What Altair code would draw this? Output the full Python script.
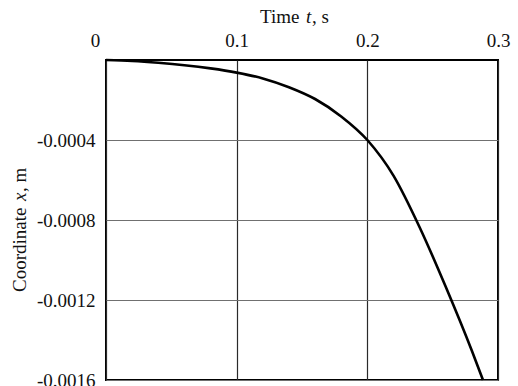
import altair as alt
import pandas as pd

# Displacement curve: time (s) and coordinate (m)
time_s = [0.0, 0.02, 0.04, 0.06, 0.08, 0.10, 0.12, 0.14, 0.16,
          0.18, 0.20, 0.22, 0.24, 0.26, 0.28, 0.2885]
coord_m = [0.0, -0.000005, -0.000014, -0.000026, -0.000042, -0.000063,
           -0.000092, -0.000136, -0.000195, -0.000282, -0.0004, -0.000578,
           -0.000836, -0.001134, -0.001454, -0.0016]

x_ticks = [0, 0.1, 0.2, 0.3]
x_tick_labels = ["0", "0.1", "0.2", "0.3"]
y_ticks = [-0.0004, -0.0008, -0.0012, -0.0016]
y_tick_labels = ["-0.0004", "-0.0008", "-0.0012", "-0.0016"]

# Axis titles, split so the variable symbol can be set in italics
x_title_parts = ["Time", "t", ", s"]
y_title_parts = ["Coordinate", "x", ", m"]

df = pd.DataFrame({"t": time_s, "x": coord_m})
one_row = pd.DataFrame({"k": [0]})

FONT = "Liberation Serif, Times New Roman, serif"
FS = 19
INK = "#111111"


def label_expr(values, labels):
    parts = " : ".join(
        f"abs(datum.value - ({v})) < 1e-9 ? '{l}'" for v, l in zip(values, labels)
    )
    return parts + " : ''"


x_axis = alt.Axis(
    orient="top",
    values=x_ticks,
    labelExpr=label_expr(x_ticks, x_tick_labels),
    title=None,
    labelFont=FONT,
    labelFontSize=FS,
    labelColor=INK,
    labelPadding=10,
    labelOffset={"condition": {"test": "datum.value === 0", "value": -11}, "value": 0},
    ticks=False,
    domain=False,
    grid=True,
    gridColor="#2a2a2a",
    gridWidth=1.2,
    labelFlush=False,
)

y_axis = alt.Axis(
    values=y_ticks,
    labelExpr=label_expr(y_ticks, y_tick_labels),
    title=None,
    labelFont=FONT,
    labelFontSize=FS,
    labelColor=INK,
    labelPadding=11,
    ticks=False,
    domain=False,
    grid=True,
    gridColor="#707070",
    gridWidth=1.2,
    labelFlush=False,
)

curve = (
    alt.Chart(df)
    .mark_line(color="black", strokeWidth=2.6, interpolate="monotone")
    .encode(
        x=alt.X("t:Q", scale=alt.Scale(domain=[0, 0.3], nice=False), axis=x_axis),
        y=alt.Y("x:Q", scale=alt.Scale(domain=[-0.0016, 0], nice=False, zero=False), axis=y_axis),
    )
)


def title_piece(text, px, py, italic=False, angle=0):
    return alt.Chart(one_row).mark_text(
        text=text,
        font=FONT,
        fontSize=FS,
        fontStyle="italic" if italic else "normal",
        color=INK,
        align="left",
        baseline="middle",
        angle=angle,
    ).encode(x=alt.value(px), y=alt.value(py))


# Top axis title: "Time t, s"
x_title = [
    title_piece(x_title_parts[0], 154, -43),
    title_piece(x_title_parts[1], 200, -43, italic=True),
    title_piece(x_title_parts[2], 206, -43),
]
# Left axis title, reading bottom to top: "Coordinate x, m"
y_title = [
    title_piece(y_title_parts[0], -86, 232, angle=270),
    title_piece(y_title_parts[1], -86, 141, italic=True, angle=270),
    title_piece(y_title_parts[2], -86, 132, angle=270),
]

chart = (
    alt.layer(curve, *x_title, *y_title)
    .properties(
        width=392,
        height=320,
        background="white",
        padding={"left": 106, "top": 60, "right": 20, "bottom": 6},
        autosize=alt.AutoSizeParams(type="none"),
    )
    .configure_view(stroke="black", strokeWidth=2)
)

chart.save("out.html", embed_options={"renderer": "svg", "actions": False})
